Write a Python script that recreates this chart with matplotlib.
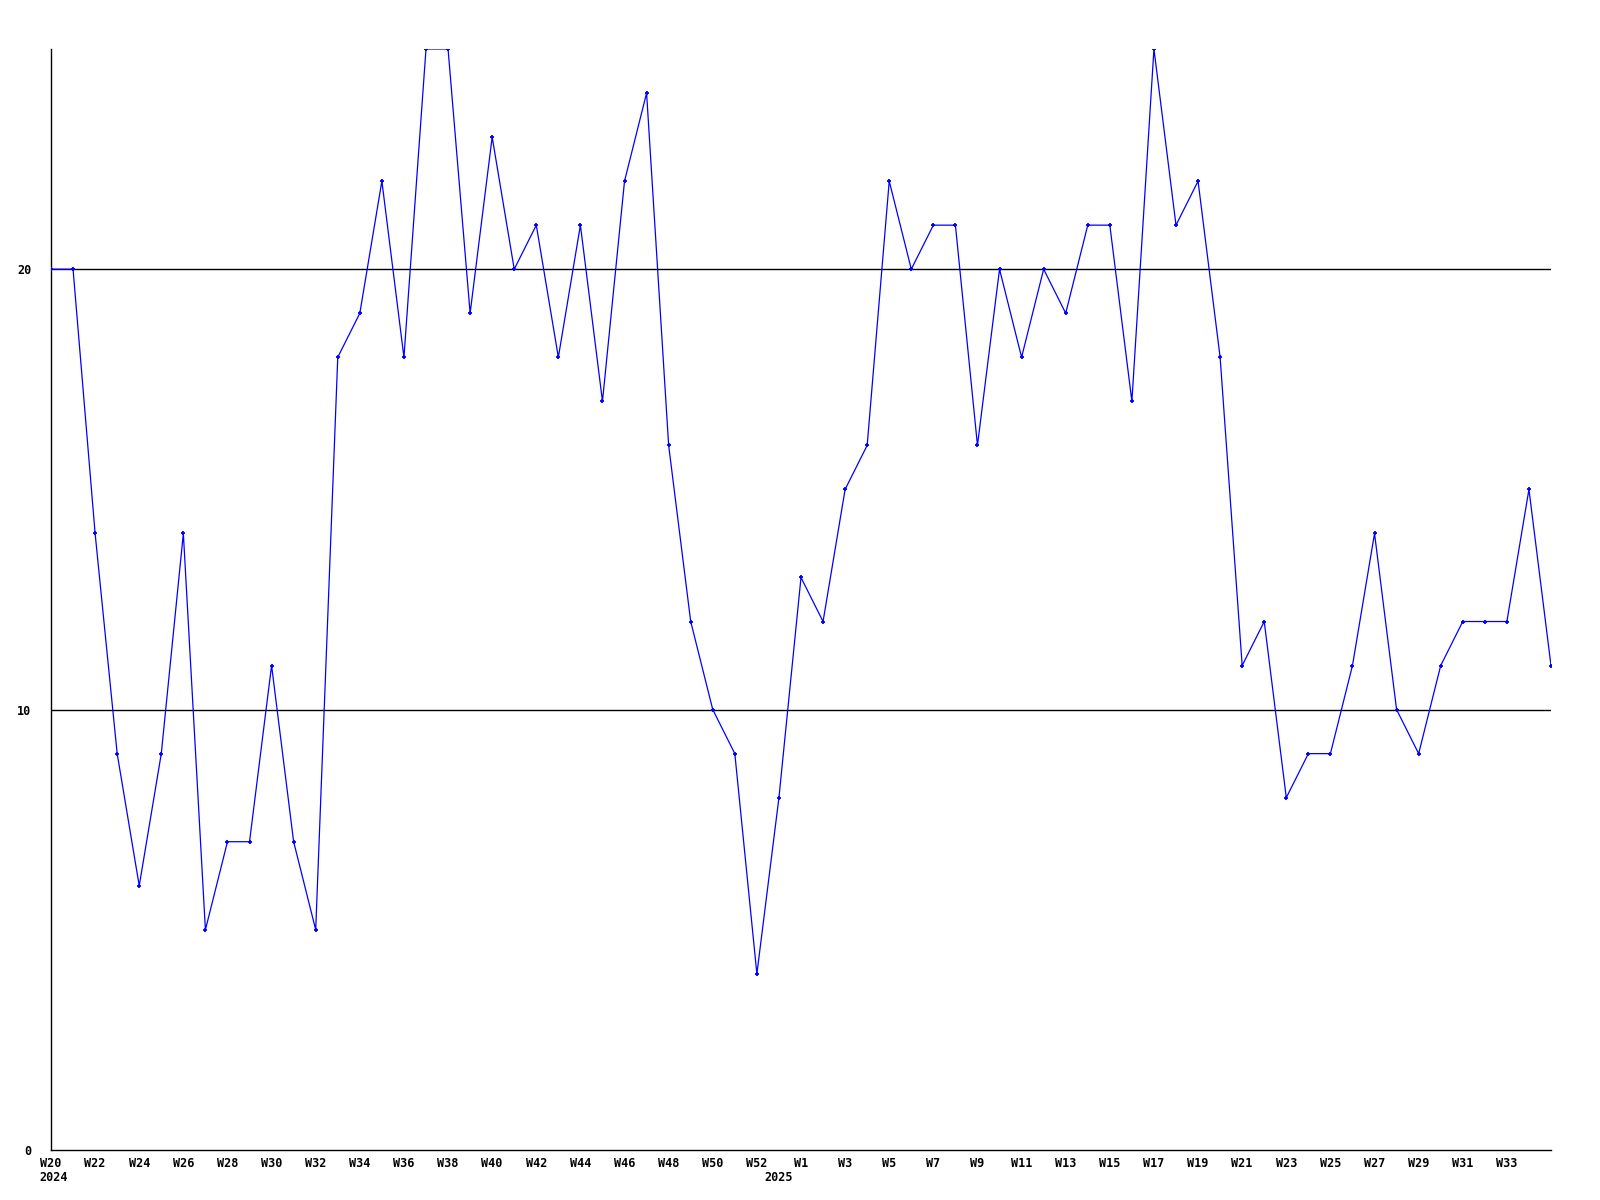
import matplotlib
matplotlib.use("Agg")
import matplotlib.pyplot as plt

weeks = ["W%d" % w for w in range(20, 54)] + ["W%d" % w for w in range(1, 36)]
values = [20, 20, 14, 9, 6, 9, 14, 5, 7, 7,
          11, 7, 5, 18, 19, 22, 18, 25, 25, 19,
          23, 20, 21, 18, 21, 17, 22, 24, 16, 12,
          10, 9, 4, 8, 13, 12, 15, 16, 22, 20,
          21, 21, 16, 20, 18, 20, 19, 21, 21, 17,
          25, 21, 22, 18, 11, 12, 8, 9, 9, 11,
          14, 10, 9, 11, 12, 12, 12, 15, 11]
years = [("2024", 0.1), ("2025", 33)]
yticks = [0, 10, 20]

font = dict(family="DejaVu Sans Mono", fontweight="bold", fontsize=8.5)

fig = plt.figure(figsize=(16, 12), dpi=100)
ax = fig.add_axes([51/1600, 50/1200, 1500/1600, 1101/1200])

x = list(range(len(values)))
ax.plot(x, values, color="#0000ff", linewidth=0.9, marker="+", markersize=3,
        markeredgewidth=1.3, zorder=3)

for yv in [10, 20]:
    ax.axhline(yv, color="black", linewidth=1.0, zorder=2)

ax.set_xlim(0, len(values) - 1)
ax.set_ylim(0, 25)

for s in ["top", "right"]:
    ax.spines[s].set_visible(False)
ax.spines["left"].set_linewidth(1.0)
ax.spines["bottom"].set_linewidth(1.0)

ax.set_yticks(yticks)
ax.set_yticklabels([str(v) for v in yticks], **font)
idx = list(range(0, len(values) - 1, 2))
ax.set_xticks(idx)
ax.set_xticklabels([weeks[i] for i in idx], **font)
ax.tick_params(length=0, pad=5)
ax.tick_params(axis="y", pad=14)

for txt, pos in years:
    ax.text(pos, -0.019, txt, transform=ax.get_xaxis_transform(),
            ha="center", va="top", **font)

fig.savefig("out.png", dpi=100)
